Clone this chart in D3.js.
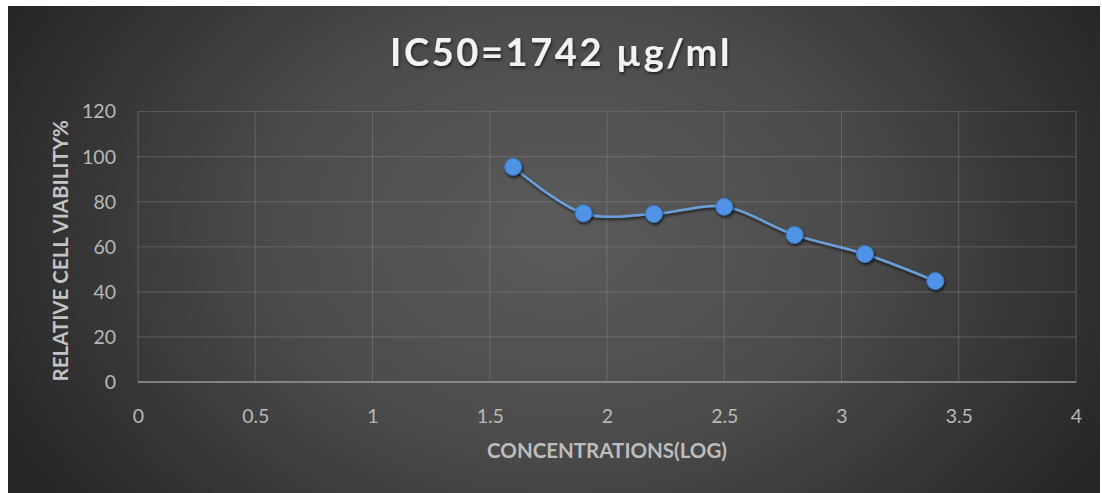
<!DOCTYPE html>
<html>
<head>
<meta charset="utf-8">
<script src="https://cdn.jsdelivr.net/npm/d3@7"></script>
<style>
html,body{margin:0;padding:0;background:#fff;}
svg{display:block;}
</style>
</head>
<body>
<svg id="chart" width="1102" height="493"></svg>
<script>
const titleText = "IC50=1742 µg/ml";
const xTitle = "CONCENTRATIONS(LOG)";
const yTitle = "RELATIVE CELL VIABILITY%";
const concLog = [1.6, 1.9, 2.2, 2.5, 2.8, 3.1, 3.4];
const viability = [95.5, 74.9, 74.6, 77.8, 65.3, 56.8, 44.8];
const xTicks = [0, 0.5, 1, 1.5, 2, 2.5, 3, 3.5, 4];
const yTicks = [0, 20, 40, 60, 80, 100, 120];

const svg = d3.select("#chart");
const defs = svg.append("defs");
const rg = defs.append("radialGradient").attr("id","bg")
  .attr("gradientUnits","userSpaceOnUse")
  .attr("cx", 560).attr("cy", 230).attr("r", 620)
  .attr("gradientTransform","translate(560,230) scale(1,0.75) translate(-560,-230)");
rg.append("stop").attr("offset","0%").attr("stop-color","#5b5b5b");
rg.append("stop").attr("offset","45%").attr("stop-color","#4c4c4c");
rg.append("stop").attr("offset","100%").attr("stop-color","#262626");

const sh = defs.append("filter").attr("id","shadow").attr("x","-50%").attr("y","-50%").attr("width","200%").attr("height","200%");
sh.append("feDropShadow").attr("dx",1).attr("dy",2).attr("stdDeviation",1.6).attr("flood-color","#000").attr("flood-opacity",0.7);
const tsh = defs.append("filter").attr("id","tshadow").attr("x","-10%").attr("y","-30%").attr("width","120%").attr("height","160%");
tsh.append("feDropShadow").attr("dx",1).attr("dy",2).attr("stdDeviation",1.5).attr("flood-color","#000").attr("flood-opacity",0.6);

svg.append("rect").attr("x",8).attr("y",6).attr("width",1092).attr("height",487).attr("fill","url(#bg)");

const m = {left:138, right:1076, top:111.7, bottom:382};
const x = d3.scaleLinear().domain([0,4]).range([m.left, m.right]);
const y = d3.scaleLinear().domain([0,120]).range([m.bottom, m.top]);

const g = svg.append("g");
g.selectAll(".hg").data(yTicks.filter(d=>d>0)).join("line")
  .attr("x1", m.left).attr("x2", m.right)
  .attr("y1", d=>y(d)).attr("y2", d=>y(d))
  .attr("stroke","#8a8a8a").attr("stroke-opacity",0.45).attr("stroke-width",1);
g.selectAll(".vg").data(xTicks).join("line")
  .attr("y1", m.top).attr("y2", m.bottom)
  .attr("x1", d=>x(d)).attr("x2", d=>x(d))
  .attr("stroke","#8a8a8a").attr("stroke-opacity",0.45).attr("stroke-width",1);
g.append("line").attr("x1",m.left).attr("x2",m.right).attr("y1",y(0)).attr("y2",y(0))
  .attr("stroke","#9a9a9a").attr("stroke-width",1.5);

const font = "Lato, 'Open Sans', sans-serif";
const xAxis = svg.append("g").attr("transform",`translate(0,${m.bottom})`)
  .call(d3.axisBottom(x).tickValues(xTicks).tickSize(0).tickPadding(27).tickFormat(d=>String(d)));
xAxis.select(".domain").remove();
xAxis.selectAll("text").attr("fill","#b8b8b8").style("font-family",font).style("font-size","19.5px");

const yAxis = svg.append("g").attr("transform",`translate(${m.left},0)`)
  .call(d3.axisLeft(y).tickValues(yTicks).tickSize(0).tickPadding(22).tickFormat(d=>String(d)));
yAxis.select(".domain").remove();
yAxis.selectAll("text").attr("fill","#b8b8b8").style("font-family",font).style("font-size","19.5px");

svg.append("text").attr("x", 561).attr("y", 66).attr("text-anchor","middle")
  .attr("fill","#f2f2f2").attr("filter","url(#tshadow)")
  .style("font-family",font).style("font-weight","bold").style("font-size","38px").style("letter-spacing","2.6px")
  .text(titleText);

svg.append("text").attr("x", (m.left+m.right)/2).attr("y", 458).attr("text-anchor","middle")
  .attr("fill","#bdbdbd").style("font-family",font).style("font-weight","bold").style("font-size","20.5px")
  .text(xTitle);
svg.append("text").attr("transform",`translate(68,${(m.top+m.bottom)/2+4}) rotate(-90)`).attr("text-anchor","middle")
  .attr("fill","#c4c4c4").style("font-family",font).style("font-weight","bold").style("font-size","20.5px")
  .text(yTitle);

const data = concLog.map((c,i)=>({x:c, y:viability[i]}));
const line = d3.line().x(d=>x(d.x)).y(d=>y(d.y)).curve(d3.curveCatmullRom.alpha(0.5));
svg.append("path").datum(data).attr("d", line)
  .attr("fill","none").attr("stroke","#6a9fdc").attr("stroke-width",2.5).attr("filter","url(#shadow)");
svg.selectAll(".pt").data(data).join("circle")
  .attr("cx", d=>x(d.x)).attr("cy", d=>y(d.y)).attr("r", 8.5)
  .attr("fill","#4f92e6").attr("stroke","#3f78c0").attr("stroke-width",1).attr("filter","url(#shadow)");
</script>
</body>
</html>
